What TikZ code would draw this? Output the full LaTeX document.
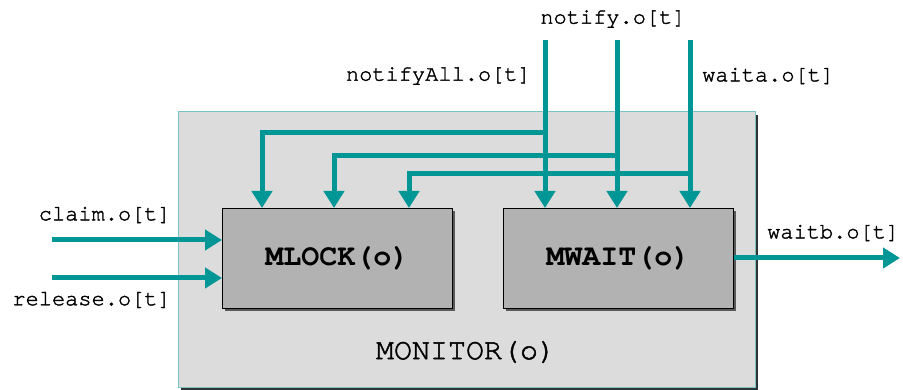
\documentclass[tikz,border=0pt]{standalone}
\usepackage{fontspec}
\setmonofont{texgyrecursor}[Extension=.otf, UprightFont=*-regular, BoldFont=*-bold]
\newfontfamily\lblfont{texgyrecursor}[Extension=.otf, UprightFont=*-regular, FakeBold=1.6]
\usetikzlibrary{arrows.meta}
\definecolor{sig}{RGB}{0,150,150}
\definecolor{monfill}{RGB}{220,220,220}
\definecolor{monedge}{RGB}{120,195,195}
\definecolor{blkfill}{RGB}{178,178,178}
\tikzset{
  sigline/.style={draw=sig, line width=5pt, -{Triangle[width=20pt,length=17pt]}},
  lbl/.style={font=\lblfont\bfseries\fontsize{22}{24}\selectfont, inner sep=0pt},
  blk/.style={draw=black, line width=0.8pt, fill=blkfill, minimum width=230pt, minimum height=100pt, inner sep=0pt,
    font=\ttfamily\bfseries\fontsize{30}{32}\selectfont},
}
\begin{document}
\begin{tikzpicture}[x=1pt,y=-1pt]
\useasboundingbox (0,0) rectangle (903,390);
% monitor frame with dark shadow
\fill[black!80] (181,115) rectangle (758,390);
\draw[monedge, line width=1pt, fill=monfill] (178,112) rectangle (755,387);
\node[lbl, font=\lblfont\bfseries\fontsize{30}{32}\selectfont] (mon) at (466,352) {MONITOR(o)};
% inner blocks with shadows
\fill[black!65] (225,211) rectangle (455,311);
\fill[black!65] (506,211) rectangle (736,311);
\node[blk, anchor=north west] (mlock) at (222,208) {MLOCK(o)};
\node[blk, anchor=north west] (mwait) at (503,208) {MWAIT(o)};
% input coordinates
\coordinate (nAin) at (545,40);
\coordinate (nin) at (617,40);
\coordinate (win) at (690,40);
\coordinate (cin) at (52,240);
\coordinate (rin) at (52,278);
\coordinate (wbout) at (900,258);
% branches into MLOCK
\draw[sigline] (nAin |- 0,133) -- (262,133) -- (262,208);
\draw[sigline] (nin |- 0,156) -- (334,156) -- (334,208);
\draw[sigline] (win |- 0,174) -- (409,174) -- (409,208);
% vertical lines into MWAIT
\draw[sigline] (nAin) -- (nAin |- mwait.north);
\draw[sigline] (nin) -- (nin |- mwait.north);
\draw[sigline] (win) -- (win |- mwait.north);
% left inputs and output
\draw[sigline] (cin) -- (cin -| mlock.west);
\draw[sigline] (rin) -- (rin -| mlock.west);
\draw[sigline] (mwait.east |- wbout) -- (wbout);
% labels
\node[lbl] (lnotify) at (613,19) {notify.o[t]};
\node[lbl, anchor=east] (lnotifyall) at (531,76) {notifyAll.o[t]};
\node[lbl, anchor=west] (lwaita) at (702,76) {waita.o[t]};
\node[lbl, anchor=east] (lclaim) at (171,215) {claim.o[t]};
\node[lbl, anchor=east] (lrelease) at (171,300) {release.o[t]};
\node[lbl, anchor=west] (lwaitb) at (767,233) {waitb.o[t]};
\end{tikzpicture}
\end{document}
